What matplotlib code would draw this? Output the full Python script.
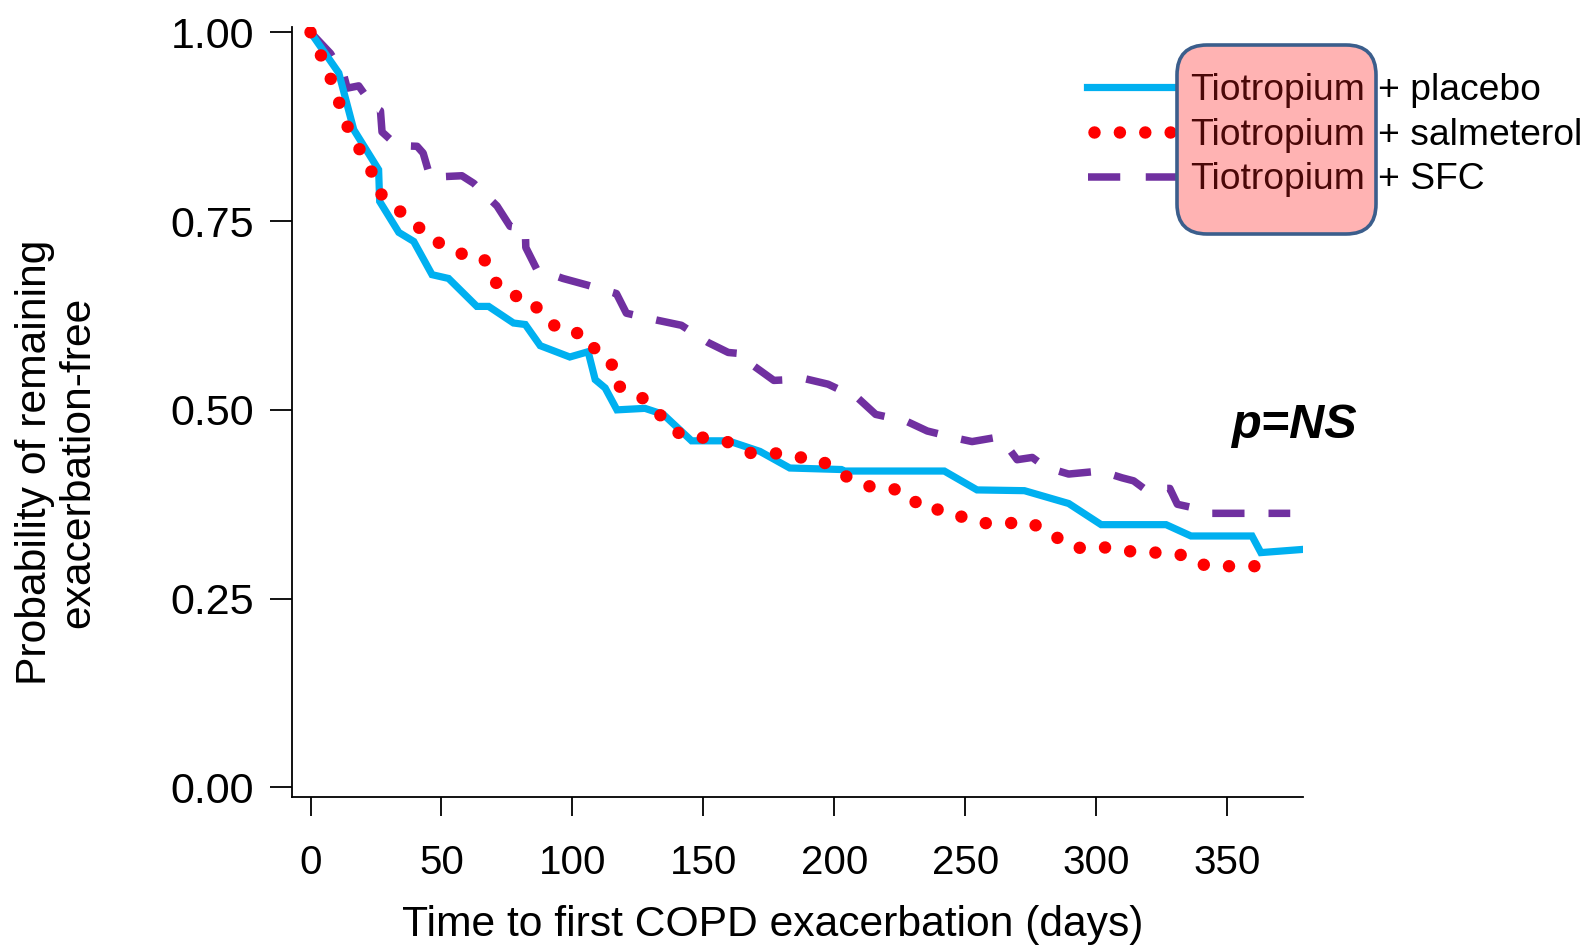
import matplotlib
matplotlib.use("Agg")
import matplotlib.pyplot as plt
from matplotlib.patches import FancyBboxPatch

plt.rcParams['font.family'] = ['Liberation Sans', 'DejaVu Sans']

# Kaplan-Meier style curves (days, probability)
placebo_days = [0, 10.8, 16.5, 26, 26.4, 33.7, 39.4, 46.4, 52.7, 63.5, 68, 77.5, 82, 87.7, 99,
                106, 108.7, 112.5, 117, 127.7, 134.7, 145.5, 159.5, 171.6, 183, 202.7, 204, 242,
                254.5, 272.6, 289.5, 301.9, 326.7, 336.2, 359.5, 362.9, 378]
placebo_prob = [1.0, 0.946, 0.871, 0.818, 0.776, 0.735, 0.723, 0.679, 0.674, 0.637, 0.637, 0.615,
                0.613, 0.585, 0.570, 0.577, 0.540, 0.529, 0.500, 0.502, 0.494, 0.459, 0.459, 0.445,
                0.423, 0.421, 0.419, 0.419, 0.394, 0.393, 0.376, 0.348, 0.348, 0.333, 0.333, 0.311,
                0.315]

salm_days = [0, 4.4, 8, 11, 14, 18.4, 22.9, 26, 32.4, 40, 43.2, 50.2, 57.2, 66, 69.9, 75, 83.2, 89,
             96, 104.8, 107.4, 114.8, 116, 121.4, 129.6, 135.1, 141.7, 150.5, 159.7, 167.7, 176.9,
             184.1, 192.4, 200, 207, 212.9, 221.9, 228.2, 233.6, 242.8, 250.1, 257, 266.1, 275.3,
             281.7, 289.5, 292.1, 301.1, 308.4, 316.5, 325.5, 334.3, 341.6, 350.7, 360, 369.5]
salm_prob = [1.0, 0.966, 0.936, 0.906, 0.876, 0.847, 0.819, 0.789, 0.767, 0.749, 0.732, 0.719,
             0.707, 0.702, 0.672, 0.652, 0.649, 0.624, 0.603, 0.601, 0.584, 0.566, 0.535, 0.524,
             0.511, 0.486, 0.466, 0.463, 0.457, 0.443, 0.443, 0.437, 0.437, 0.423, 0.406, 0.399,
             0.396, 0.389, 0.368, 0.368, 0.356, 0.350, 0.350, 0.351, 0.335, 0.325, 0.317, 0.319,
             0.315, 0.311, 0.311, 0.307, 0.294, 0.293, 0.293, 0.293]

sfc_days = [0, 7.6, 12.7, 14, 18.4, 24.1, 26.7, 27.3, 33, 40.7, 43, 45.7, 57.8, 62.3, 71.2, 76.2,
            82, 82.2, 86.4, 96.4, 105.9, 116.8, 120.6, 132, 141.6, 151.9, 159.5, 165.8, 169.3,
            176.9, 189.1, 197.6, 209.2, 215.8, 227.5, 235.5, 247.2, 252.6, 261, 264.7, 269.8,
            275.6, 280.7, 289.5, 301.6, 309.9, 314.3, 318.2, 328.1, 331, 336.2, 344.2, 352.6, 374.1]
sfc_prob = [1.0, 0.972, 0.943, 0.926, 0.929, 0.901, 0.896, 0.868, 0.850, 0.849, 0.840, 0.808,
            0.810, 0.800, 0.770, 0.743, 0.740, 0.715, 0.686, 0.674, 0.665, 0.654, 0.628, 0.619,
            0.612, 0.589, 0.576, 0.574, 0.558, 0.539, 0.541, 0.534, 0.515, 0.494, 0.485, 0.472,
            0.462, 0.458, 0.463, 0.458, 0.434, 0.437, 0.424, 0.415, 0.419, 0.410, 0.406, 0.396,
            0.396, 0.375, 0.371, 0.363, 0.363, 0.363]

x_ticks = [0, 50, 100, 150, 200, 250, 300, 350]
y_ticks = [0.00, 0.25, 0.50, 0.75, 1.00]
group_names = ['+ placebo', '+ salmeterol', '+ SFC']

blue = '#00B0F0'
red = '#FF0000'
purple = '#7030A0'
dots = (0, (0.001, 2.03))
dashes = (0, (4.3, 3.2))

fig = plt.figure(figsize=(15.93, 9.49), dpi=100)
ax = fig.add_axes([0.1831, 0.1605, 0.8180 - 0.1831, 0.9719 - 0.1605])

ax.plot(placebo_days, placebo_prob, color=blue, lw=5.2, solid_joinstyle='miter', zorder=3)
ax.plot(salm_days, salm_prob, color=red, lw=9, linestyle=dots, dash_capstyle='round', zorder=4)
ax.plot(sfc_days, sfc_prob, color=purple, lw=5.4, linestyle=dashes, dash_capstyle='butt', zorder=2)

ax.set_xlim(-7.2, 379)
ax.set_ylim(-0.0122, 1.0074)
ax.set_xticks(x_ticks)
ax.set_yticks(y_ticks)
ax.set_yticklabels(['%.2f' % v for v in y_ticks])
for s in ['top', 'right']:
    ax.spines[s].set_visible(False)
for s in ['left', 'bottom']:
    ax.spines[s].set_linewidth(1.3)
ax.tick_params(axis='y', length=16, width=1.3, pad=11, labelsize=31)
ax.tick_params(axis='x', length=14, width=1.3, pad=20, labelsize=29)

fig.text(1231 / 1593, 1 - 425 / 949, 'p=NS', fontsize=35, fontweight='bold',
         fontstyle='italic', ha='left', va='center')

fig.text(773 / 1593, 1 - 925 / 949, 'Time to first COPD exacerbation (days)', fontsize=30.7,
         ha='center', va='center')
fig.text(57 / 1593, 1 - 462 / 949, 'Probability of remaining\nexacerbation-free', fontsize=30.7,
         rotation=90, ha='center', va='center', multialignment='center', linespacing=1.1)

# legend drawn in pixel space of the figure
lg = fig.add_axes([0, 0, 1, 1], facecolor='none')
lg.set_xlim(0, 1593)
lg.set_ylim(949, 0)
lg.axis('off')
rows = [87.4, 132, 176.8]
lg.plot([1087, 1177], [rows[0]] * 2, color=blue, lw=5.2)
lg.plot([1094, 1177], [rows[1]] * 2, color=red, lw=9, linestyle=dots, dash_capstyle='round')
lg.plot([1088, 1177], [rows[2]] * 2, color=purple, lw=5.4, linestyle=(0, (4.3, 3.4)))
box = FancyBboxPatch((1177, 45), 199, 189, boxstyle='round,pad=0,rounding_size=30',
                     facecolor='#FFB3B3', edgecolor='#3B5E8C', lw=2.6, zorder=5)
lg.add_patch(box)
for y, name in zip(rows, group_names):
    lg.text(1190, y + 3, 'Tiotropium', fontsize=26.8, color='#4A0808', va='center', ha='left', zorder=6)
    lg.text(1378, y + 3, name, fontsize=26.8, color='black', va='center', ha='left', zorder=6)

fig.savefig('out.png', dpi=100)
